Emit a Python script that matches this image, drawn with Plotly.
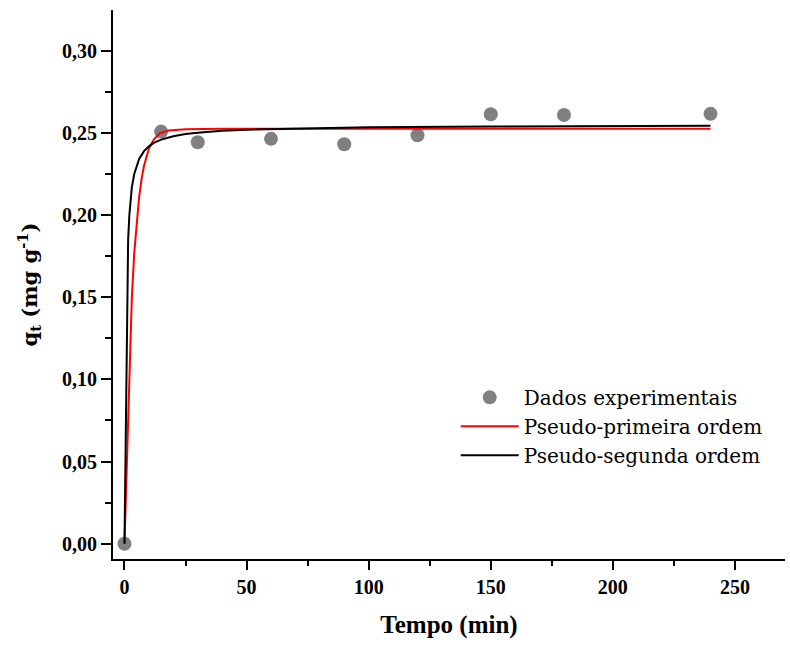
import plotly.graph_objects as go

# Experimental data
t_exp = [0, 15, 30, 60, 90, 120, 150, 180, 240]
q_exp = [0.0, 0.2508, 0.2443, 0.2464, 0.2431, 0.2486, 0.2614, 0.2609, 0.2616]

# Pseudo-first order curve
t_pfo = [0, 1, 2, 3, 4, 5, 6, 7, 8, 10, 12, 14.5, 18, 25, 40, 100, 150, 240]
q_pfo = [0.0, 0.055, 0.105, 0.149, 0.177, 0.197, 0.211, 0.222, 0.230, 0.2405,
         0.2460, 0.2498, 0.2514, 0.2522, 0.2525, 0.2525, 0.2525, 0.2525]

# Pseudo-second order curve
t_pso = [0, 1, 1.5, 2, 3, 4, 5, 6, 8, 10, 12, 15, 20, 25, 30, 40, 50, 75, 100, 150, 200, 240]
q_pso = [0.0, 0.155, 0.185, 0.200, 0.2167, 0.2250, 0.2304, 0.2341, 0.2389, 0.2418,
         0.2439, 0.2459, 0.2480, 0.2493, 0.2501, 0.2513, 0.2520, 0.2529, 0.2534,
         0.2539, 0.2541, 0.2543]

x_tickvals = [0, 50, 100, 150, 200, 250]
y_tickvals = [0.00, 0.05, 0.10, 0.15, 0.20, 0.25, 0.30]

FONT = "Liberation Serif"
FONT_ALT = "DejaVu Serif"

fig = go.Figure()
fig.add_trace(go.Scatter(
    x=t_exp, y=q_exp, mode="markers", name="Dados experimentais",
    marker=dict(color="#808080", size=14, line=dict(width=0)),
))
fig.add_trace(go.Scatter(
    x=t_pfo, y=q_pfo, mode="lines", name="Pseudo-primeira ordem",
    line=dict(color="#ff0000", width=2),
))
fig.add_trace(go.Scatter(
    x=t_pso, y=q_pso, mode="lines", name="Pseudo-segunda ordem",
    line=dict(color="#000000", width=2),
))

fig.update_layout(
    width=790, height=651,
    margin=dict(l=113, r=5, t=10, b=92),
    paper_bgcolor="white", plot_bgcolor="white",
    separators=",.",
    font=dict(family=FONT, color="black", size=20),
    showlegend=True,
    legend=dict(
        x=0.51, y=0.33, xanchor="left", yanchor="top",
        font=dict(family=FONT_ALT, size=20, color="black"),
        bgcolor="rgba(0,0,0,0)", itemwidth=58, tracegroupgap=0,
    ),
    xaxis=dict(
        range=[-4.7, 270.5], tickvals=x_tickvals, tickformat="d",
        showgrid=False, zeroline=False,
        showline=True, linecolor="black", linewidth=2,
        ticks="outside", ticklen=9, tickwidth=2, tickcolor="black",
        minor=dict(dtick=25, ticks="outside", ticklen=5, tickwidth=2, tickcolor="black", showgrid=False),
        tickfont=dict(family=FONT, size=20, color="black", weight="bold"),
        title=dict(text="Tempo (min)", font=dict(family=FONT, size=25, color="black", weight="bold"), standoff=18),
    ),
    yaxis=dict(
        range=[-0.0093, 0.3248], tickvals=y_tickvals, tickformat=".2f",
        showgrid=False, zeroline=False,
        showline=True, linecolor="black", linewidth=2,
        ticks="outside", ticklen=10, tickwidth=2, tickcolor="black",
        minor=dict(dtick=0.025, tick0=0, ticks="outside", ticklen=6, tickwidth=2, tickcolor="black", showgrid=False),
        tickfont=dict(family=FONT, size=20, color="black", weight="bold"),
        title=dict(text="q<sub>t</sub> (mg g<sup>-1</sup>)", font=dict(family=FONT_ALT, size=21, color="black", weight="bold"), standoff=19),
    ),
)

fig.write_html("out.html")
